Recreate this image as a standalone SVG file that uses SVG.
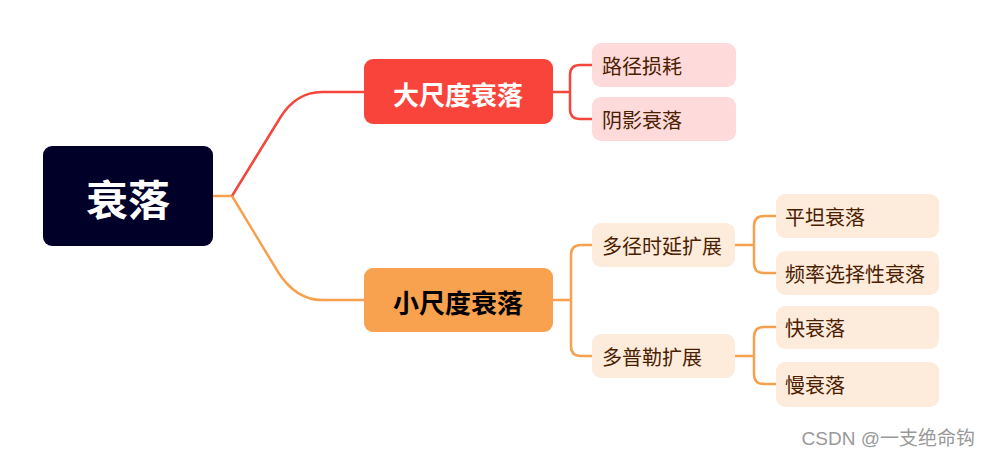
<svg xmlns="http://www.w3.org/2000/svg" width="989" height="458" viewBox="0 0 989 458">
<style>
text{font-family:"Noto Sans CJK SC","Liberation Sans",sans-serif;dominant-baseline:central}
.root{fill:#fff;font-size:42px;font-weight:bold}
.l1{font-size:26px;font-weight:bold}
.l2{font-size:20px;fill:#4a2000}
.red{fill:none;stroke:#F5463C;stroke-width:2.5}
.org{fill:none;stroke:#F7A04E;stroke-width:2.5}
.pk{fill:#FFDADA}
.bg{fill:#FDEBDB}
</style>
<rect width="989" height="458" fill="#fff"/>
<g id="connectors">
<path class="org" d="M213 196 H232"/>
<path class="red" d="M232 196 L280 118 Q296 92 322 92 H365"/>
<path class="org" d="M232 196 L278 272 Q296 300 322 300 H365"/>
<path class="red" d="M553 92 H570 M592 65 H580 Q570 65 570 75 V109 Q570 119 580 119 H592"/>
<path class="org" d="M553 300 H571 M592 245 H581 Q571 245 571 255 V346 Q571 356 581 356 H592"/>
<path class="org" d="M735 245 H754 M776 216 H764 Q754 216 754 226 V263 Q754 273 764 273 H776"/>
<path class="org" d="M735 356 H754 M776 327 H764 Q754 327 754 337 V374 Q754 384 764 384 H776"/>
</g>
<g id="root"><rect x="43" y="146" width="170" height="100" rx="9" fill="#000028"/><text class="root" x="128" y="197" text-anchor="middle">衰落</text></g>
<g id="large"><rect x="364" y="59" width="189" height="65" rx="9" fill="#F9443C"/><text class="l1" x="458" y="93" text-anchor="middle" fill="#fff">大尺度衰落</text></g>
<g id="small"><rect x="364" y="268" width="189" height="64" rx="9" fill="#F8A14E"/><text class="l1" x="458" y="301" text-anchor="middle" fill="#000">小尺度衰落</text></g>
<g id="pathloss"><rect class="pk" x="592" y="43" width="144" height="44" rx="9"/><text class="l2" x="602" y="65">路径损耗</text></g>
<g id="shadow"><rect class="pk" x="592" y="97" width="144" height="44" rx="9"/><text class="l2" x="602" y="119">阴影衰落</text></g>
<g id="multipath"><rect class="bg" x="592" y="223" width="143" height="44" rx="9"/><text class="l2" x="602" y="245">多径时延扩展</text></g>
<g id="doppler"><rect class="bg" x="592" y="334" width="143" height="44" rx="9"/><text class="l2" x="602" y="356">多普勒扩展</text></g>
<g id="flat"><rect class="bg" x="776" y="194" width="163" height="44" rx="9"/><text class="l2" x="785" y="216">平坦衰落</text></g>
<g id="freqsel"><rect class="bg" x="776" y="251" width="163" height="44" rx="9"/><text class="l2" x="785" y="273">频率选择性衰落</text></g>
<g id="fast"><rect class="bg" x="776" y="306" width="163" height="43" rx="9"/><text class="l2" x="785" y="327">快衰落</text></g>
<g id="slow"><rect class="bg" x="776" y="362" width="163" height="45" rx="9"/><text class="l2" x="785" y="384">慢衰落</text></g>
<text x="975" y="438" text-anchor="end" font-size="19" fill="#999" style="font-family:'Liberation Sans','Noto Sans CJK SC',sans-serif">CSDN @一支绝命钩</text>
</svg>
